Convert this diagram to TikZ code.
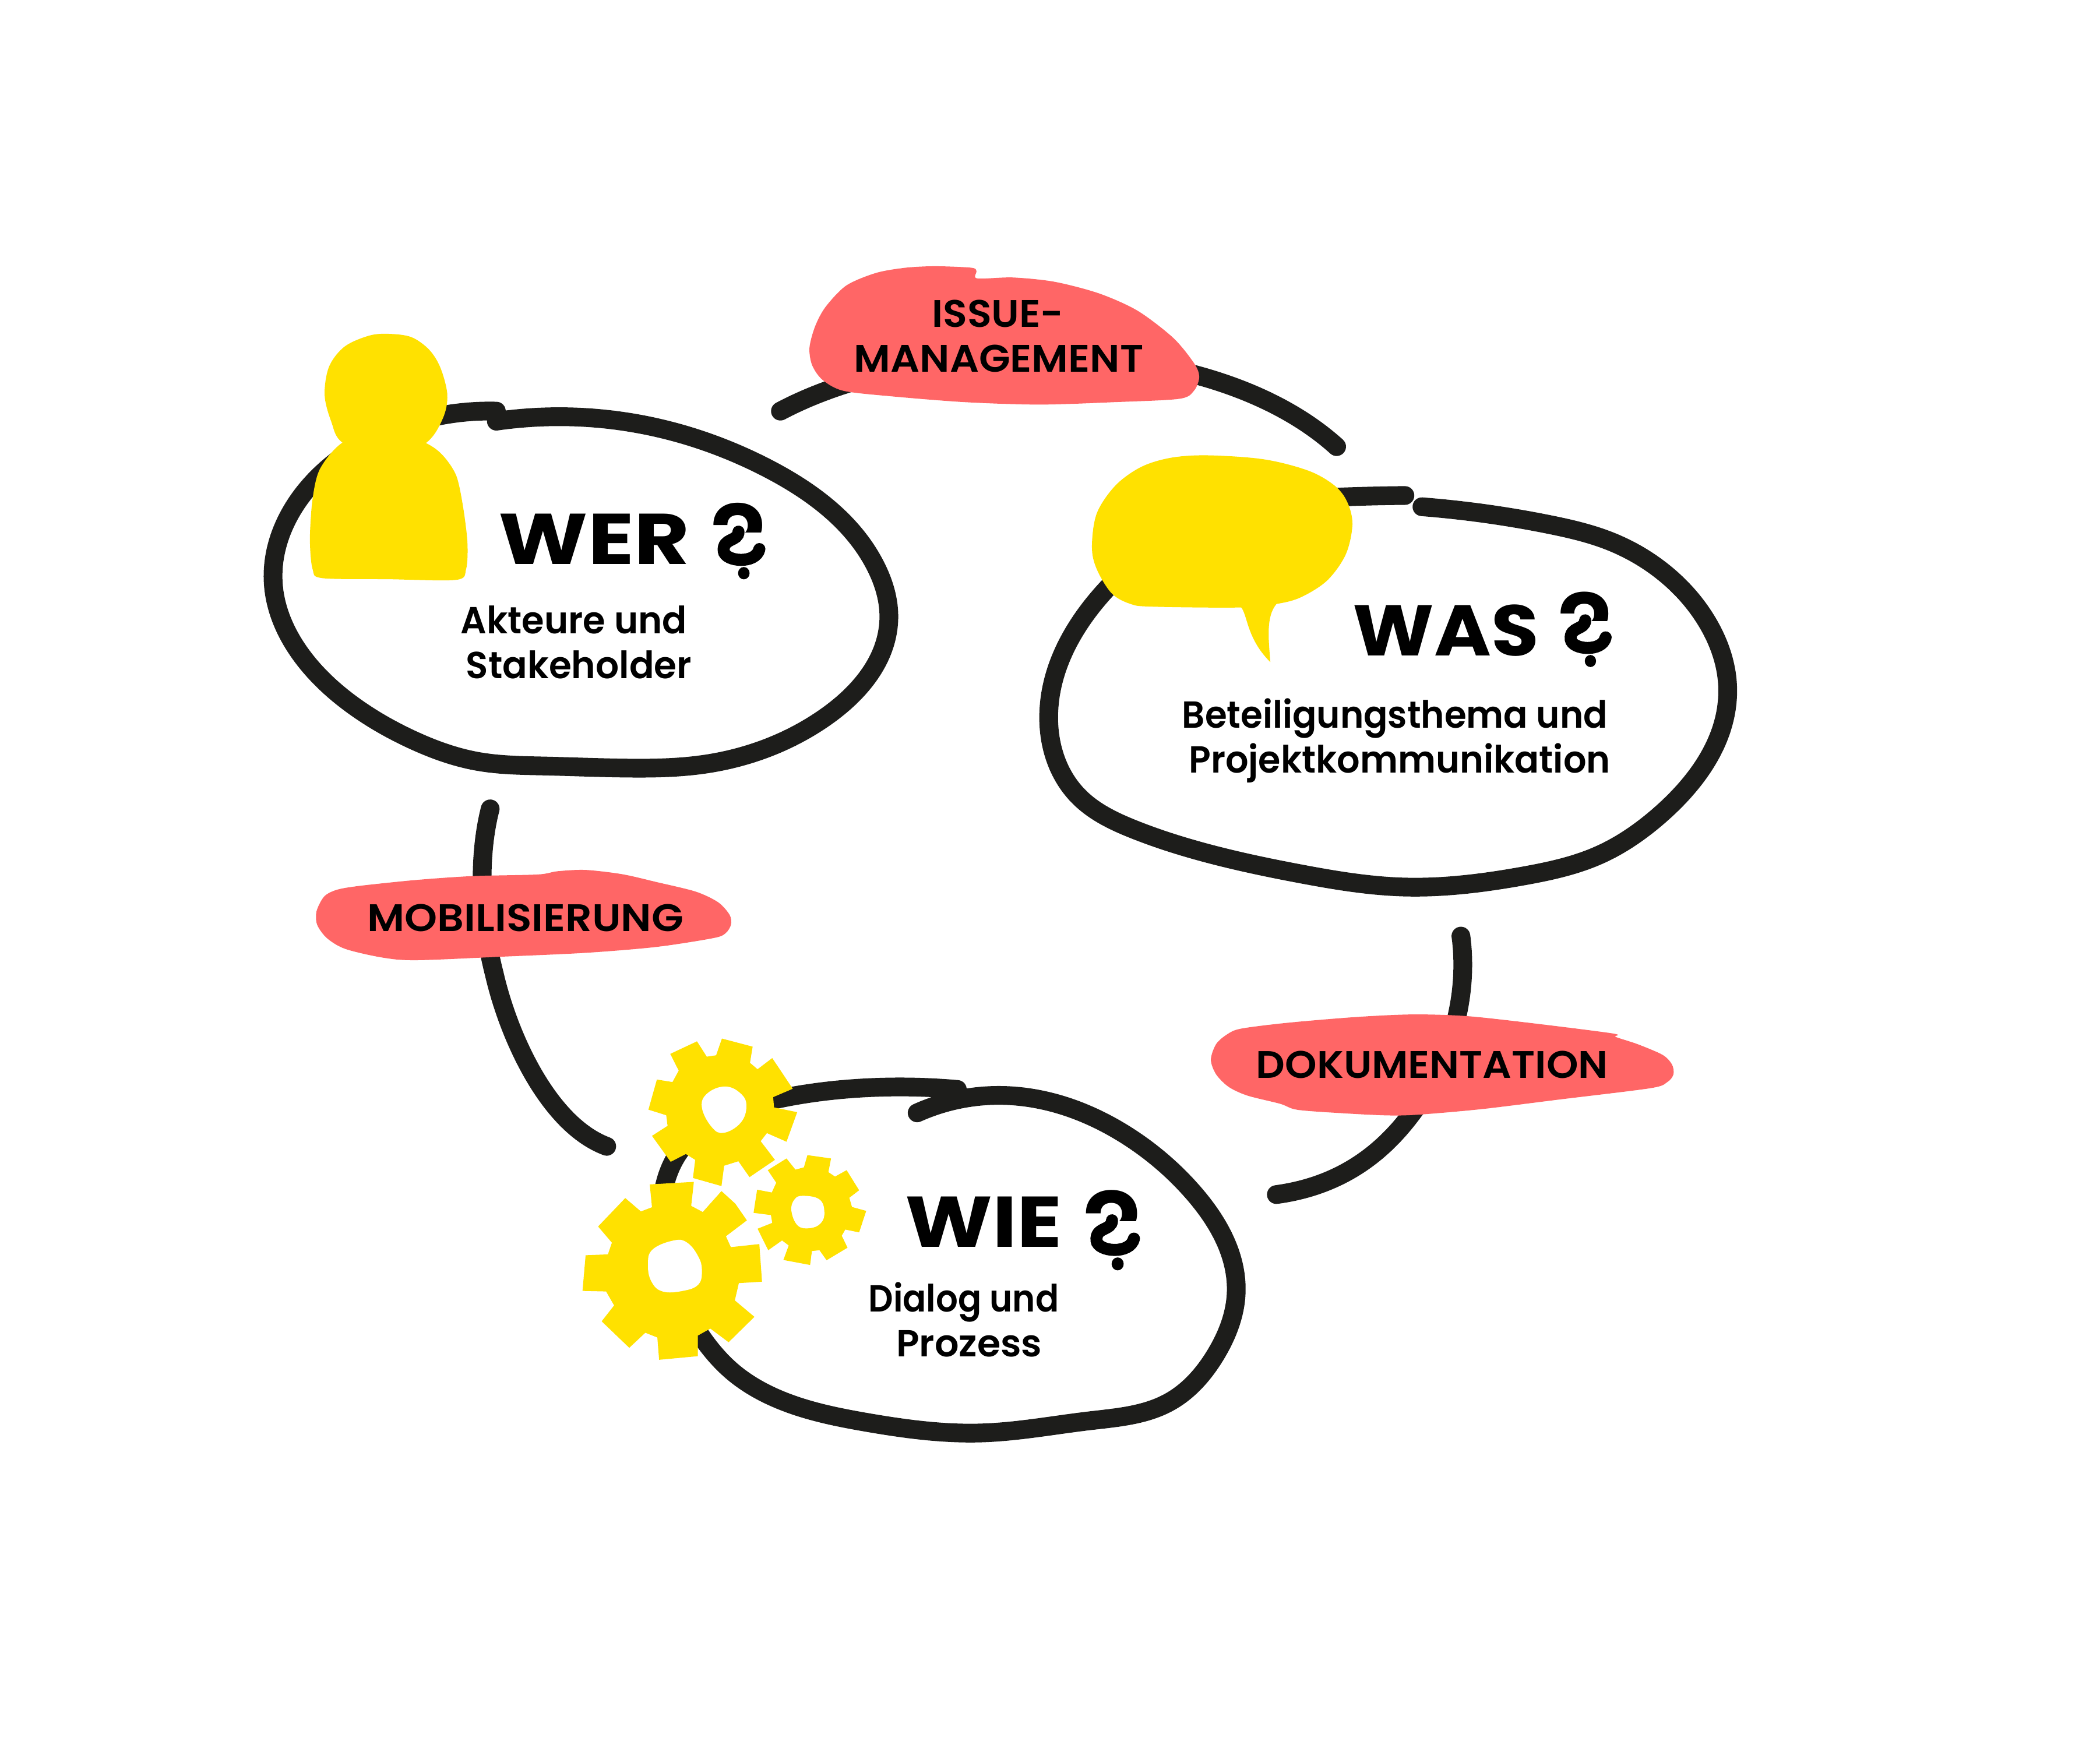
\documentclass[tikz,border=0pt]{standalone}
\usepackage{fontspec}
\usepackage{graphicx}
\usetikzlibrary{hobby}
\setmainfont{Poppins}
\newfontfamily\medf{Poppins SemiBold}
\newfontfamily\boldf{Poppins Bold}
\definecolor{ink}{HTML}{1D1D1B}
\definecolor{yel}{HTML}{FFE100}
\definecolor{rd}{HTML}{FF6666}
\newdimen\uu \uu=0.02cm
\tikzset{
  ring/.style={draw=ink,line width=0.28cm,line cap=round,line join=round},
  ringh/.style={ring,use Hobby shortcut},
  tx/.style={inner sep=0,outer sep=0,anchor=base west,text=black},
}
\newcommand\txt[4]{\node[tx] at (#1) {\resizebox{#2\uu}{\height}{\fontsize{#3pt}{#3pt}\medf #4}};}
\newcommand\head[3]{\node[tx] at (#1) {\resizebox{#2\uu}{\height}{\fontsize{30.5pt}{30.5pt}\boldf #3}};}
\newcommand\qmk[3]{%
  \begin{scope}[shift={(#1,#2)},scale=#3]
  \begin{scope}
  \clip (-40,-70) rectangle (40,-35);
  \node[inner sep=0,anchor=base,text=black] at (-4,0) {\scalebox{#3}{\fontsize{45pt}{45pt}\medf ?}};
  \end{scope}
  \draw[line width=0.18cm,line cap=round,black] (-4,-35.5) .. controls (-4,-28) and (-16,-31) .. (-15,-21) .. controls (-14,-13) and (9,-11) .. (11.6,-22.5);
  \fill[black] (0,-4.5) ellipse [x radius=4.3,y radius=4.6];
  \end{scope}}
\begin{document}
\begin{tikzpicture}[x=0.02cm,y=-0.02cm]
\useasboundingbox (0,0) rectangle (1568,1297.8);
\fill[white] (0,0) rectangle (1568,1297.8);
% rings
\draw[ringh] (370.6,314.5)..(473.8,316)..(573.7,350)..(653.6,422.4)..(663.6,463.7)..(617,535)..(523.8,571)..(473.8,573.6)..(407,572)..(357,568.6)..(307,552)..(264,527)..(227.4,492.4)..(204,435)..(227.4,367.5)..(290,322)..(370.6,307);
\draw[ringh] (1061.7,378.4)..(1157.4,391.8)..(1201.8,404)..(1235,422)..(1275,465)..(1290,515)..(1240,608)..(1193.5,638.7)..(1138,654)..(1046.4,662.3)..(971.5,652.6)..(902,637.3)..(846.6,619.3)..(805,594.3)..(783,535)..(827,439)..(900,388)..(1004.8,371)..(1049,370);
\draw[ringh] (684.8,831)..(749.7,818)..(843,849)..(891,890.6)..(923,965.5)..(908,1011)..(873,1047)..(813,1061)..(733,1070)..(646.5,1062)..(586.6,1047)..(546.6,1024)..(523,997)..(495,925)..(506.6,861)..(580,820.8)..(653,812)..(714.8,813.5);
% connectors
\coordinate (i1) at (582.7,307);
\coordinate (i2) at (998,333.5);
\coordinate (m1) at (366,604);
\coordinate (m2) at (453,856);
\coordinate (d1) at (1090.8,699);
\coordinate (d2) at (953,892);
\draw[ring] (i1) .. controls (690,250) and (900,245) .. (i2);
\draw[ring] (m1) .. controls (358,635) and (357,680) .. (369,727) .. controls (380,775) and (410,840) .. (m2);
\draw[ring] (d1) .. controls (1097,745) and (1083,800) .. (1044,844) .. controls (1020,871) and (990,887) .. (d2);
% red shapes
\fill[rd] plot[smooth cycle,tension=.5] coordinates {(698.5,198.8)(725.1,199.9)(729.1,202.4)(729.6,207.9)(756.2,207.2)(787.3,210.4)(820.6,219.1)(849.5,232.1)(876.1,252.4)(891.6,271.3)(895.4,281.4)(891.6,291.6)(880.5,297.8)(831.7,300.3)(776.2,302.1)(720.7,300.3)(665.2,295.9)(629.7,291.8)(614.1,283.6)(606.4,272.7)(604.4,259.7)(608.6,243.7)(616.4,229.2)(631.9,213.2)(654.1,203.8)(676.3,199.9)};
\fill[rd] plot[smooth cycle,tension=.5] coordinates {(401.3,653)(416.1,650.6)(437.2,649.6)(464.6,652.8)(490,658.6)(519.5,665.8)(536.3,673.8)(544.8,683.2)(545.8,690.4)(541.6,697)(532.1,700.6)(490,707.1)(437.2,711.5)(373.9,714.4)(310.7,717)(285.4,715)(257.9,708.6)(244.2,700.6)(236.8,690.5)(236.4,680.3)(242.1,669.4)(251.6,664.4)(268.5,661.5)(310.7,657.1)(352.8,654.2)};
\fill[rd] plot[smooth cycle,tension=.5] coordinates {(1054.9,757.5)(1094.5,758.7)(1141.2,763.7)(1204.1,771.7)(1206.4,774.3)(1222.7,779.7)(1241.4,787.7)(1248.4,794.9)(1249.5,802.2)(1244.9,808)(1232.1,812.6)(1164.5,821)(1106.2,828.2)(1059.6,832.3)(1036.3,832.9)(1001.3,831.2)(968.7,828.7)(955.8,824.2)(931.4,818.1)(917.4,811.6)(908,802.2)(904.1,791.3)(908,779.7)(916.2,772.4)(926.7,768.1)(961.7,763.7)(1013,759.4)};
% person
\fill[yel] plot[smooth cycle,tension=.55] coordinates {(255.7,330.5)(247.4,315)(242.4,295)(245.7,273.8)(257.3,258.8)(275.7,250.6)(290.7,249.3)(307.3,251.8)(320.6,261.3)(329,275)(334,295)(330.6,312.5)(318,330.8)(287,345)};
\fill[yel] plot[smooth cycle,tension=.5] coordinates {(255.7,330.5)(287,318)(318,330.8)(330.6,340)(340.6,355)(345.6,377.5)(349,405)(348,425)(340.6,433)(290,432.5)(240.7,431.7)(233.4,425)(231.4,402.5)(233.4,372.5)(239,350)};
% speech bubble
\fill[yel] plot[smooth cycle,tension=.55] coordinates {(902,340)(943.8,343)(977,351.5)(996.5,362.6)(1006,375)(1009.8,391.7)(1004.8,414)(991,433.4)(971.5,445.9)(953.5,450.9)(925.7,453.6)(860.5,453)(843.9,450.9)(830,443)(818.9,425)(815.3,408.4)(818.9,383.4)(832.8,362.6)(852,348.7)(874.4,341.8)};
\fill[yel] (925,452) .. controls (932,456) and (929,475) .. (948.5,494.4) .. controls (947,475) and (945,458) .. (955,449) -- cycle;
% gears
\begin{scope}[x=0.00666cm,y=-0.004164cm,xshift=8.268cm,yshift=-15.23cm]
\fill[yel] (322,78)--(344,133)--(365,128)--(378,68)--(447,97)--(441,155)--(458,178)--(491,138)--(537,248)--(493,278)--(495,315)--(547,332)--(523,438)--(479,407)--(465,436)--(497,503)--(440,565)--(415,508)--(383,524)--(377,597)--(313,568)--(318,503)--(297,482)--(263,510)--(221,417)--(256,381)--(253,343)--(213,323)--(232,215)--(267,224)--(281,183)--(262,123)--cycle;
\fill[white] plot[smooth cycle,tension=.7] coordinates {(385,240)(420,265)(433,310)(420,370)(382,406)(355,385)(333,315)(345,265)};
\fill[yel] (216,591)--(315,582)--(309,668)--(335,690)--(377,615)--(408,660)--(434,720)--(387,777)--(398,816)--(462,805)--(468,940)--(416,945)--(407,1007)--(451,1066)--(393,1157)--(352,1108)--(324,1133)--(324,1207)--(237,1220)--(233,1140)--(206,1123)--(170,1177)--(108,1082)--(136,1025)--(118,975)--(65,973)--(72,845)--(122,842)--(131,800)--(100,742)--(161,640)--(196,688)--(221,673)--cycle;
\fill[white] plot[smooth cycle,tension=.7] coordinates {(270,792)(300,800)(325,850)(333,900)(325,950)(290,973)(245,975)(220,940)(212,880)(222,825)};
\fill[yel] (523,498)--(543,538)--(562,530)--(570,486)--(623,498)--(617,547)--(632,563)--(658,540)--(686,612)--(664,639)--(670,672)--(702,686)--(686,763)--(655,753)--(647,775)--(660,818)--(613,863)--(597,827)--(580,830)--(576,880)--(516,862)--(528,810)--(513,792)--(482,827)--(458,750)--(491,729)--(488,701)--(449,693)--(457,610)--(490,620)--(500,585)--(481,540)--cycle;
\fill[white] plot[smooth cycle,tension=.7] coordinates {(560,632)(597,645)(608,690)(600,730)(575,748)(548,738)(534,685)(541,645)};
\end{scope}
% text
\head{372.2,421.2}{142.6}{WER}
\head{1010,489.7}{139}{WAS}
\head{675.8,931.2}{117.2}{WIE}
\qmk{555.4}{432.5}{1}
\qmk{1187.5}{498}{.98}
\qmk{834.5}{948.5}{1.05}
\txt{344,473}{168.8}{16}{Akteure und}
\txt{348,506.6}{168.4}{16}{Stakeholder}
\txt{882.7,543.5}{317.7}{16}{Beteiligungsthema und}
\txt{887.7,577}{314.7}{16}{Projektkommunikation}
\txt{648.5,979.5}{142.2}{16}{Dialog und}
\txt{669.2,1013}{108.8}{16}{Prozess}
\txt{695.8,244.3}{98.6}{16.3}{ISSUE-}
\txt{637.7,277.8}{216.2}{16.3}{MANAGEMENT}
\txt{274.4,695.5}{236}{16.3}{MOBILISIERUNG}
\txt{937.9,805}{262.7}{16.3}{DOKUMENTATION}
\end{tikzpicture}
\end{document}
